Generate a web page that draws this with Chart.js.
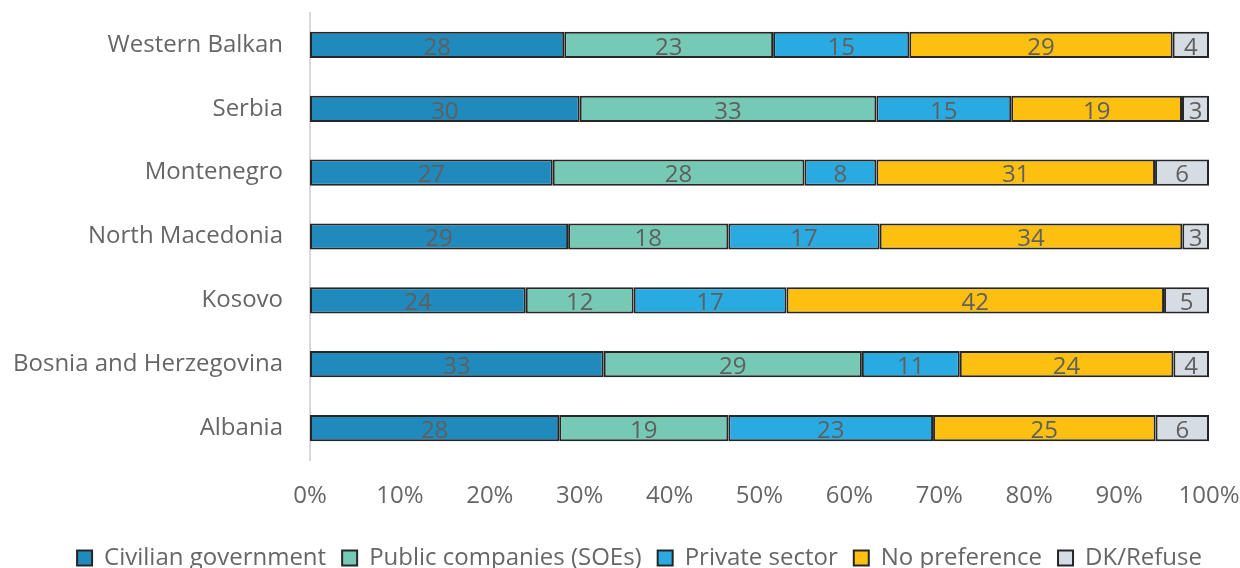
<!DOCTYPE html>
<html>
<head>
<meta charset="utf-8">
<script src="https://cdn.jsdelivr.net/npm/chart.js@4/dist/chart.umd.min.js"></script>
<style>
  html, body { margin: 0; padding: 0; background: #ffffff; }
  #wrap { width: 1240px; height: 568px; position: relative; }
</style>
</head>
<body>
<div id="wrap"><canvas id="c" width="1240" height="568"></canvas></div>
<script>
// Preferred owner, share of respondents (%) per economy
const categories = ["Western Balkan", "Serbia", "Montenegro", "North Macedonia", "Kosovo", "Bosnia and Herzegovina", "Albania"];
const civilianGovernment = [28, 30, 27, 29, 24, 33, 28];
const publicCompanies    = [23, 33, 28, 18, 12, 29, 19];
const privateSector      = [15, 15,  8, 17, 17, 11, 23];
const noPreference       = [29, 19, 31, 34, 42, 24, 25];
const dkRefuse           = [ 4,  3,  6,  3,  5,  4,  6];
const seriesNames = ["Civilian government", "Public companies (SOEs)", "Private sector", "No preference", "DK/Refuse"];
const xTicks = [0, 10, 20, 30, 40, 50, 60, 70, 80, 90, 100];

const series = [civilianGovernment, publicCompanies, privateSector, noPreference, dkRefuse];
const colors = ["#1F8ABB", "#76C9B4", "#29ABE2", "#FDC010", "#D6DCE4"];

// each bar is stacked to 100%
const rowTotals = categories.map((_, i) => series.reduce((s, arr) => s + arr[i], 0));

const FONT = "'Open Sans', 'Noto Sans', sans-serif";
const TEXT = "#666666";

const valueLabels = {
  id: "valueLabels",
  afterDatasetsDraw(chart) {
    const ctx = chart.ctx;
    ctx.save();
    ctx.font = "24px " + FONT;
    ctx.fillStyle = "#5F5F5F";
    ctx.textAlign = "center";
    ctx.textBaseline = "middle";
    chart.data.datasets.forEach((ds, di) => {
      const meta = chart.getDatasetMeta(di);
      meta.data.forEach((bar, i) => {
        const cx = (bar.x + bar.base) / 2;
        ctx.fillText(String(ds.raw[i]), cx, bar.y + 3);
      });
    });
    ctx.restore();
  }
};

// centre the legend row under the whole canvas rather than the padded box
const legendShift = {
  id: "legendShift",
  afterLayout(chart) {
    const lg = chart.legend;
    if (lg) { lg.left += 35; lg.right += 35; }
  }
};

new Chart(document.getElementById("c"), {
  type: "bar",
  data: {
    labels: categories,
    datasets: series.map((arr, k) => ({
      label: seriesNames[k],
      raw: arr,
      data: arr.map((v, i) => v / rowTotals[i] * 100),
      backgroundColor: colors[k],
      borderColor: "#262626",
      borderWidth: 2,
      borderSkipped: false,
      categoryPercentage: 1,
      barPercentage: 0.41
    }))
  },
  options: {
    indexAxis: "y",
    responsive: false,
    animation: false,
    devicePixelRatio: 1,
    layout: { padding: { top: 13, right: 31, left: 0, bottom: -12 } },
    plugins: {
      tooltip: { enabled: false },
      legend: {
        position: "bottom",
        labels: {
          font: { family: FONT, size: 24 },
          color: TEXT,
          boxWidth: 15,
          boxHeight: 15,
          padding: 16
        }
      }
    },
    scales: {
      x: {
        stacked: true,
        min: 0,
        max: 100,
        afterBuildTicks(scale) { scale.ticks = xTicks.map(v => ({ value: v })); },
        afterFit(scale) { scale.height = 70; scale.paddingLeft = 0; scale.paddingRight = 0; },
        grid: { display: false, drawTicks: false },
        border: { display: false },
        ticks: {
          font: { family: FONT, size: 24 },
          color: TEXT,
          padding: 22,
          maxRotation: 0,
          callback: v => v + "%"
        }
      },
      y: {
        stacked: true,
        afterFit(scale) { scale.width = 310; scale.paddingTop = 0; scale.paddingBottom = 0; },
        grid: { display: false, drawTicks: false },
        border: { display: true, color: "#D9D9D9", width: 2 },
        ticks: {
          font: { family: FONT, size: 24 },
          color: TEXT,
          padding: 27
        }
      }
    }
  },
  plugins: [valueLabels, legendShift]
});
</script>
</body>
</html>
